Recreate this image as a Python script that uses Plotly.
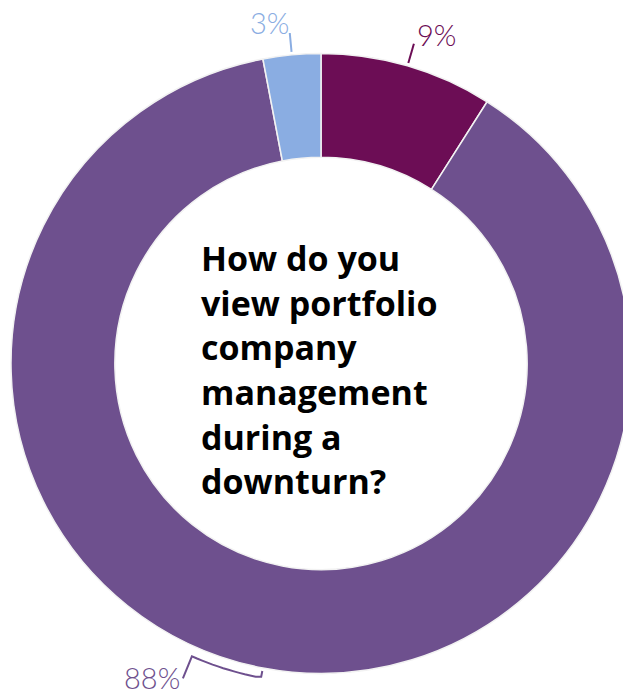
import math
import plotly.graph_objects as go

# Survey answer shares, clockwise from 12 o'clock
labels = ["Opportunity", "Neutral", "Risk"]
values = [9, 88, 3]
colors = ["#6C0D55", "#6E508E", "#8AADE2"]
value_text = ["9%", "88%", "3%"]

question_lines = ["How do you", "view portfolio", "company",
                  "management", "during a", "downturn?"]

# Canvas geometry (pixels); the figure is a little wider than the viewport
W, H = 642, 695
CX, CY = W / 2, 363.5
R_OUT = 310
HOLE = 0.665

fig = go.Figure()
fig.add_trace(go.Pie(
    labels=labels,
    values=values,
    sort=False,
    direction="clockwise",
    rotation=0,
    hole=HOLE,
    marker=dict(colors=colors, line=dict(color="#f2f2f2", width=1.5)),
    textinfo="none",
    textposition="none",
    hoverinfo="label+percent",
    domain=dict(x=[0, 1], y=[(H - (CY + R_OUT)) / H, (H - (CY - R_OUT)) / H]),
))


def polar(angle_deg, r):
    a = math.radians(angle_deg)
    return CX + r * math.sin(a), CY - r * math.cos(a)


total = sum(values)
mids = []
acc = 0
for v in values:
    mids.append((acc + v / 2) / total * 360)
    acc += v

shapes = []
annotations = []
label_font = dict(family="Lato", size=29, weight=300)

# 9% : short radial leader, label up and to the right
x0, y0 = polar(mids[0], 313)
x1, y1 = polar(mids[0], 333)
shapes.append(dict(type="line", x0=x0, y0=y0, x1=x1, y1=y1,
                   line=dict(color=colors[0], width=2)))
annotations.append(dict(x=x1 + 1, y=y1 - 9, text=value_text[0], showarrow=False,
                        xanchor="left", yanchor="middle",
                        font=dict(label_font, color=colors[0])))

# 3% : short radial leader, label up and to the left
x0, y0 = polar(mids[2], 313)
x1, y1 = polar(mids[2], 332)
shapes.append(dict(type="line", x0=x0, y0=y0, x1=x1, y1=y1,
                   line=dict(color=colors[2], width=2)))
annotations.append(dict(x=x1 + 1, y=y1 - 10, text=value_text[2], showarrow=False,
                        xanchor="right", yanchor="middle",
                        font=dict(label_font, color=colors[2])))

# 88% : bracket leader that follows the rim, then drops to the label
a_mid = mids[1]
pts = [polar(a_mid, 313), polar(a_mid, 319)]
for k in range(1, 14):
    pts.append(polar(a_mid + k, 320))
end_x, end_y = pts[-1][0] - 9, pts[-1][1] + 22
pts.append((end_x, end_y))
path = "M " + " L ".join(f"{px:.1f},{py:.1f}" for px, py in pts)
shapes.append(dict(type="path", path=path, line=dict(color=colors[1], width=2)))
annotations.append(dict(x=end_x - 1, y=end_y - 1, text=value_text[1], showarrow=False,
                        xanchor="right", yanchor="middle",
                        font=dict(label_font, color=colors[1])))

# Question in the hole, one annotation per line for even spacing
q_size = 34
first_baseline = 270.5
line_step = 44.6
for i, line in enumerate(question_lines):
    baseline = first_baseline + i * line_step
    annotations.append(dict(x=199, y=baseline - 0.36 * q_size, text=line,
                            showarrow=False, xanchor="left", yanchor="middle",
                            align="left",
                            font=dict(family="Open Sans", size=q_size, weight=700,
                                      color="#000000")))

for s in shapes:
    s.update(xref="x", yref="y", layer="above")
for a in annotations:
    a.update(xref="x", yref="y")

fig.update_layout(
    width=W, height=H,
    margin=dict(l=0, r=0, t=0, b=0),
    paper_bgcolor="white", plot_bgcolor="rgba(0,0,0,0)",
    showlegend=False,
    xaxis=dict(range=[0, W], visible=False, fixedrange=True),
    yaxis=dict(range=[H, 0], visible=False, fixedrange=True),
    shapes=shapes,
    annotations=annotations,
)

fig.write_html("out.html")
